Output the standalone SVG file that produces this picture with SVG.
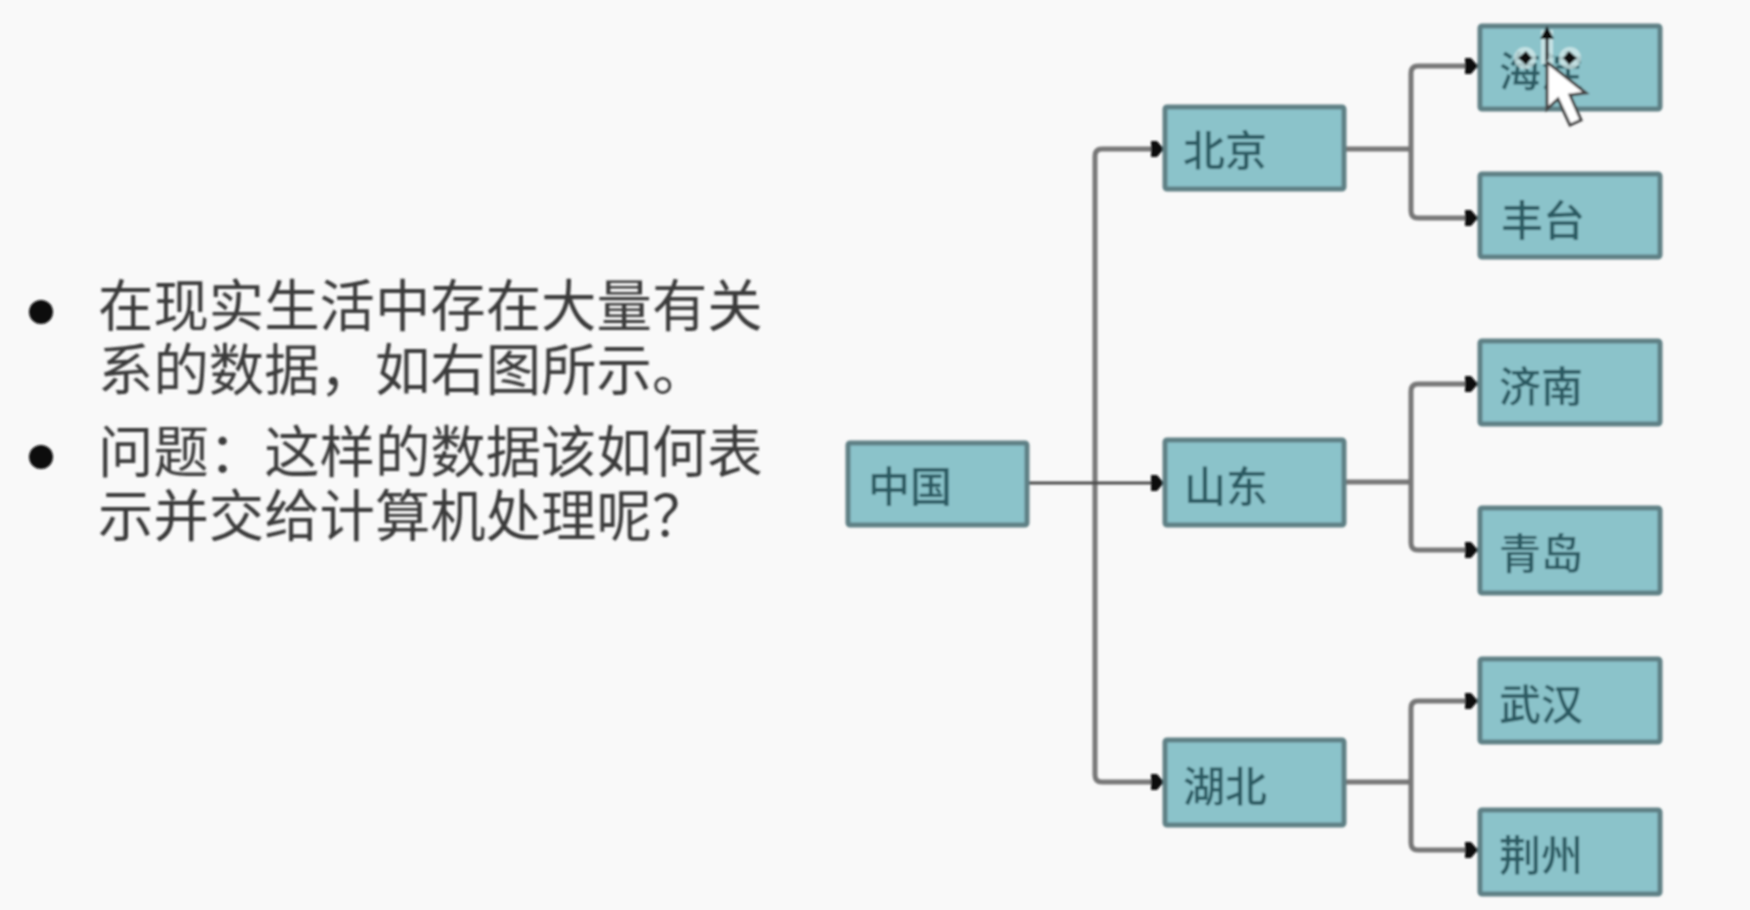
<svg xmlns="http://www.w3.org/2000/svg" width="1750" height="910" viewBox="0 0 1750 910">
<style>
.box{fill:#8bc3ca;stroke:#5f8085;stroke-width:5}
.lbl{font-family:"Noto Sans CJK SC","Noto Sans",sans-serif;font-size:42px;font-weight:500;fill:#2a5a62}
.body{font-family:"Liberation Sans","Noto Sans CJK SC",sans-serif;font-size:55.400px;fill:#3a3a3a}
.conn{fill:none;stroke:#777;stroke-width:5;stroke-linejoin:round}
.halo{fill:#d8ecec;opacity:.75}
</style>
<defs>
<marker id="arrow" markerUnits="userSpaceOnUse" markerWidth="14" markerHeight="20" refX="13" refY="10" orient="auto"><path d="M0 2L6 2L13 10L6 18L0 18Z" fill="#111"/></marker>
<filter id="soft" x="-5%" y="-5%" width="110%" height="110%"><feGaussianBlur stdDeviation="0.9"/></filter>
</defs>
<rect width="1750" height="910" fill="#f9f9f9"/>
<g filter="url(#soft)">
<g id="connectors">
<path class="conn" d="M1095 483V156Q1095 149 1102 149H1164" marker-end="url(#arrow)"/>
<path class="conn" d="M1095 483V775Q1095 782 1102 782H1164" marker-end="url(#arrow)"/>
<path class="conn" d="M1027 483H1164" style="stroke:#4a4a4a;stroke-width:3" marker-end="url(#arrow)"/>
<path class="conn" d="M1344 149H1411"/>
<path class="conn" d="M1411 149V73Q1411 66 1418 66H1478" marker-end="url(#arrow)"/>
<path class="conn" d="M1411 149V211Q1411 218 1418 218H1478" marker-end="url(#arrow)"/>
<path class="conn" d="M1344 482H1411"/>
<path class="conn" d="M1411 482V391Q1411 384 1418 384H1478" marker-end="url(#arrow)"/>
<path class="conn" d="M1411 482V543Q1411 550 1418 550H1478" marker-end="url(#arrow)"/>
<path class="conn" d="M1344 782H1411"/>
<path class="conn" d="M1411 782V708Q1411 701 1418 701H1478" marker-end="url(#arrow)"/>
<path class="conn" d="M1411 782V843Q1411 850 1418 850H1478" marker-end="url(#arrow)"/>
</g>
<g id="node-zhongguo"><rect class="box" x="848" y="443" width="179" height="82" rx="2"/><text class="lbl" x="868" y="502">中国</text></g>
<g id="node-beijing"><rect class="box" x="1165" y="107" width="179" height="82" rx="2"/><text class="lbl" x="1183" y="166">北京</text></g>
<g id="node-shandong"><rect class="box" x="1165" y="440" width="179" height="85" rx="2"/><text class="lbl" x="1184" y="502">山东</text></g>
<g id="node-hubei"><rect class="box" x="1165" y="740" width="179" height="85" rx="2"/><text class="lbl" x="1183" y="802">湖北</text></g>
<g id="node-haidian"><rect class="box" x="1480" y="26" width="180" height="83" rx="2"/><text class="lbl" x="1499" y="87">海淀</text></g>
<g id="node-fengtai"><rect class="box" x="1480" y="174" width="180" height="83" rx="2"/><text class="lbl" x="1501" y="236">丰台</text></g>
<g id="node-jinan"><rect class="box" x="1480" y="341" width="180" height="83" rx="2"/><text class="lbl" x="1499" y="402">济南</text></g>
<g id="node-qingdao"><rect class="box" x="1480" y="508" width="180" height="85" rx="2"/><text class="lbl" x="1499" y="569">青岛</text></g>
<g id="node-wuhan"><rect class="box" x="1480" y="659" width="180" height="83" rx="2"/><text class="lbl" x="1499" y="720">武汉</text></g>
<g id="node-jingzhou"><rect class="box" x="1480" y="810" width="180" height="84" rx="2"/><text class="lbl" x="1499" y="871">荆州</text></g>
<g id="cursor">
<circle class="halo" cx="1525" cy="58" r="11"/>
<circle class="halo" cx="1570" cy="58" r="11"/>
<rect class="halo" x="1541" y="30" width="12" height="34"/>
<path d="M1547 26L1540 39H1554Z" fill="#111"/>
<path d="M1547 39V60" stroke="#222" stroke-width="3"/>
<path d="M1518 58L1526 51L1532 58L1526 65Z" fill="#111"/>
<path d="M1577 58L1569 51L1563 58L1569 65Z" fill="#111"/>
<path d="M1547 62V109L1558 99L1570 125L1581 120L1570 95L1586 93Z" fill="#fff" stroke="#444" stroke-width="3"/>
</g>
<g id="text">
<circle cx="41" cy="312" r="12" fill="#0b0b0b"/>
<circle cx="41" cy="457" r="12" fill="#0b0b0b"/>
<text class="body"><tspan x="98" y="326">在现实生活中存在大量有关</tspan><tspan x="98" y="390">系的数据，如右图所示。</tspan></text>
<text class="body"><tspan x="98" y="472">问题：这样的数据该如何表</tspan><tspan x="98" y="536">示并交给计算机处理呢？</tspan></text>
</g>
</g>
</svg>
